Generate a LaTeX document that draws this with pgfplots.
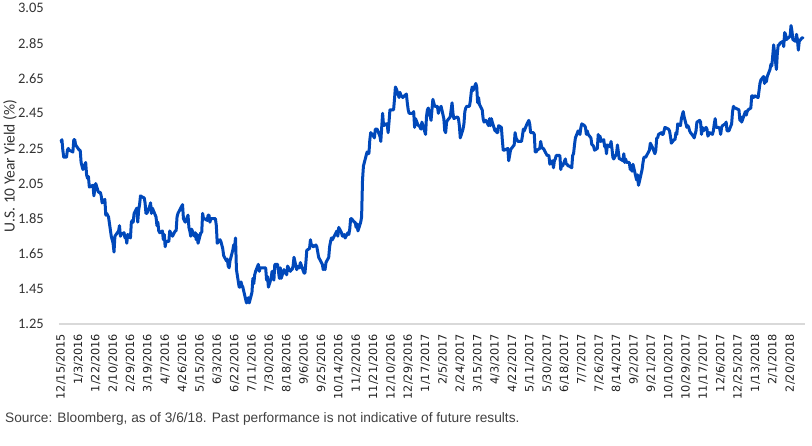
\documentclass[border=0pt]{standalone}
\usepackage{pgfplots}
\pgfplotsset{compat=1.18}
\usepackage{pgfplotstable}
\usepackage{fontspec}
\setmainfont{Carlito}
\newfontfamily\ticksfont{DejaVu Sans}
\newfontfamily\notefont{Liberation Sans}
\definecolor{yieldblue}{HTML}{0048BA}
\definecolor{axisgray}{HTML}{D9D9D9}
\definecolor{labelgray}{HTML}{333333}
\definecolor{notegray}{HTML}{404040}

% U.S. 10-year Treasury yield; day = calendar days since 12/15/2015
\pgfplotstableread{
day yield
0 2.29
1 2.30
2 2.24
3 2.20
6 2.20
7 2.24
8 2.25
9 2.24
13 2.23
14 2.30
15 2.30
16 2.27
20 2.24
21 2.24
22 2.17
23 2.15
24 2.13
27 2.17
28 2.10
29 2.08
30 2.09
31 2.03
35 2.04
36 1.98
37 2.02
38 2.05
41 2.00
42 2.00
43 2.00
44 1.98
45 1.94
48 1.96
49 1.87
50 1.88
51 1.87
52 1.86
55 1.75
56 1.73
57 1.71
58 1.66
59 1.75
63 1.78
64 1.81
65 1.75
66 1.76
69 1.77
70 1.74
71 1.75
72 1.71
73 1.76
76 1.74
77 1.83
78 1.84
79 1.83
80 1.88
83 1.91
84 1.83
85 1.90
86 1.93
87 1.98
90 1.97
91 1.97
92 1.94
93 1.88
94 1.88
97 1.92
98 1.94
99 1.88
100 1.91
104 1.86
105 1.81
106 1.83
107 1.78
108 1.77
111 1.78
112 1.73
113 1.76
114 1.69
115 1.72
118 1.72
119 1.78
120 1.77
121 1.76
122 1.75
125 1.78
126 1.78
127 1.86
128 1.88
129 1.89
132 1.92
133 1.93
134 1.85
135 1.84
136 1.83
139 1.87
140 1.80
141 1.78
142 1.75
143 1.79
146 1.75
147 1.77
148 1.73
149 1.76
150 1.71
153 1.77
154 1.77
155 1.88
156 1.85
157 1.85
160 1.84
161 1.87
162 1.87
163 1.83
164 1.85
168 1.85
169 1.85
170 1.81
171 1.71
174 1.73
175 1.72
176 1.70
177 1.68
178 1.64
181 1.61
182 1.62
183 1.58
184 1.57
185 1.61
188 1.67
189 1.70
190 1.69
191 1.74
192 1.56
195 1.46
196 1.46
197 1.49
198 1.47
199 1.46
203 1.37
204 1.38
205 1.40
206 1.37
209 1.43
210 1.51
211 1.48
212 1.53
213 1.55
216 1.59
217 1.55
218 1.57
219 1.57
220 1.57
223 1.57
224 1.57
225 1.50
226 1.52
227 1.46
230 1.51
231 1.55
232 1.55
233 1.50
234 1.59
237 1.59
238 1.55
239 1.51
240 1.57
241 1.51
244 1.56
245 1.54
246 1.55
247 1.53
248 1.58
251 1.55
252 1.56
253 1.56
254 1.58
255 1.63
258 1.56
259 1.57
260 1.58
261 1.57
262 1.60
266 1.54
267 1.54
268 1.60
269 1.67
272 1.68
273 1.73
274 1.70
275 1.70
276 1.69
279 1.70
280 1.69
281 1.66
282 1.63
283 1.62
286 1.59
287 1.56
288 1.57
289 1.56
290 1.60
293 1.63
294 1.69
295 1.72
296 1.74
297 1.73
301 1.77
302 1.78
303 1.75
304 1.80
307 1.77
308 1.75
309 1.75
310 1.76
311 1.74
314 1.77
315 1.76
316 1.79
317 1.85
318 1.85
321 1.83
322 1.83
323 1.80
324 1.82
325 1.78
328 1.83
329 1.86
330 2.07
331 2.15
335 2.23
336 2.22
337 2.22
338 2.30
339 2.34
342 2.32
343 2.31
344 2.36
346 2.36
349 2.32
350 2.29
351 2.37
352 2.45
353 2.38
356 2.39
357 2.39
358 2.34
359 2.40
360 2.47
363 2.47
364 2.47
365 2.53
366 2.60
367 2.59
370 2.54
371 2.57
372 2.55
373 2.55
374 2.54
378 2.56
379 2.51
380 2.47
381 2.45
385 2.45
386 2.46
387 2.37
388 2.42
391 2.38
392 2.38
393 2.37
394 2.36
395 2.40
399 2.33
400 2.43
401 2.47
402 2.48
405 2.41
406 2.47
407 2.53
408 2.51
409 2.49
412 2.49
413 2.45
414 2.48
415 2.48
416 2.49
419 2.42
420 2.35
421 2.34
422 2.40
423 2.41
426 2.43
427 2.47
428 2.51
429 2.45
430 2.42
434 2.43
435 2.42
436 2.38
437 2.31
440 2.36
441 2.39
442 2.46
443 2.48
444 2.49
447 2.49
448 2.52
449 2.57
450 2.60
451 2.58
454 2.62
455 2.60
456 2.51
457 2.54
458 2.50
461 2.47
462 2.42
463 2.40
464 2.41
465 2.41
468 2.38
469 2.42
470 2.38
471 2.42
472 2.40
475 2.35
476 2.36
477 2.34
478 2.34
479 2.38
482 2.37
483 2.30
484 2.24
485 2.24
489 2.25
490 2.18
491 2.21
492 2.24
493 2.25
496 2.27
497 2.34
498 2.31
499 2.30
500 2.29
503 2.29
504 2.29
505 2.32
506 2.36
507 2.35
510 2.39
511 2.40
512 2.41
513 2.39
514 2.34
517 2.34
518 2.33
519 2.23
520 2.23
521 2.24
524 2.25
525 2.29
526 2.26
527 2.25
528 2.25
532 2.21
533 2.21
534 2.21
535 2.16
538 2.18
539 2.14
540 2.18
541 2.19
542 2.21
545 2.21
546 2.21
547 2.13
548 2.16
549 2.15
552 2.19
553 2.16
554 2.16
555 2.15
556 2.15
559 2.14
560 2.21
561 2.22
562 2.27
563 2.31
566 2.35
568 2.33
569 2.37
570 2.39
573 2.38
574 2.37
575 2.33
576 2.35
577 2.33
580 2.31
581 2.27
582 2.27
583 2.26
584 2.24
587 2.25
588 2.33
589 2.29
590 2.32
591 2.29
594 2.30
595 2.26
596 2.27
597 2.22
598 2.27
601 2.26
602 2.29
603 2.25
604 2.20
605 2.19
608 2.22
609 2.27
610 2.23
611 2.19
612 2.19
615 2.18
616 2.22
617 2.17
618 2.19
619 2.17
622 2.17
623 2.13
624 2.15
625 2.12
626 2.16
630 2.07
631 2.10
632 2.04
633 2.06
636 2.13
637 2.17
638 2.20
639 2.20
640 2.20
643 2.23
644 2.24
645 2.28
646 2.27
647 2.26
650 2.22
651 2.24
652 2.31
653 2.31
654 2.33
657 2.34
658 2.33
659 2.33
660 2.35
661 2.37
665 2.36
666 2.35
667 2.32
668 2.28
671 2.30
672 2.30
673 2.34
674 2.33
675 2.39
678 2.38
679 2.42
680 2.44
681 2.46
682 2.43
685 2.37
686 2.38
687 2.37
688 2.35
689 2.34
692 2.32
693 2.31
694 2.33
695 2.35
696 2.40
699 2.41
700 2.40
701 2.33
702 2.37
703 2.35
706 2.37
707 2.36
708 2.32
710 2.34
713 2.33
714 2.35
715 2.39
716 2.42
717 2.37
720 2.37
721 2.36
722 2.33
723 2.37
724 2.38
727 2.39
728 2.40
729 2.35
730 2.35
731 2.35
734 2.39
735 2.46
736 2.49
737 2.48
738 2.48
742 2.47
743 2.41
744 2.43
745 2.40
749 2.46
750 2.44
751 2.46
752 2.47
755 2.48
756 2.55
757 2.55
758 2.54
759 2.55
763 2.54
764 2.58
765 2.62
766 2.64
769 2.66
770 2.62
771 2.65
772 2.63
773 2.66
776 2.70
777 2.73
778 2.72
779 2.78
780 2.84
783 2.70
784 2.79
785 2.84
786 2.84
787 2.85
790 2.86
791 2.83
792 2.91
793 2.90
794 2.87
798 2.89
799 2.95
800 2.92
801 2.87
804 2.86
805 2.90
806 2.87
807 2.81
808 2.86
811 2.88
812 2.88
}\yields

\begin{document}
\begin{tikzpicture}
\useasboundingbox (-59bp,-122bp) rectangle (753bp,324bp);
\begin{axis}[
  scale only axis,
  width=746bp, height=316bp,
  xmin=-2.2, xmax=814.3,
  ymin=1.25, ymax=3.05,
  axis x line*=bottom, axis y line*=left,
  x axis line style={draw=axisgray, line width=1.5bp},
  y axis line style={draw=none},
  major tick length=0pt,
  xtick={0,19,...,798},
  xticklabels={12/15/2015,1/3/2016,1/22/2016,2/10/2016,2/29/2016,3/19/2016,4/7/2016,4/26/2016,5/15/2016,6/3/2016,6/22/2016,7/11/2016,7/30/2016,8/18/2016,9/6/2016,9/25/2016,10/14/2016,11/2/2016,11/21/2016,12/10/2016,12/29/2016,1/17/2017,2/5/2017,2/24/2017,3/15/2017,4/3/2017,4/22/2017,5/11/2017,5/30/2017,6/18/2017,7/7/2017,7/26/2017,8/14/2017,9/2/2017,9/21/2017,10/10/2017,10/29/2017,11/17/2017,12/6/2017,12/25/2017,1/13/2018,2/1/2018,2/20/2018},
  xticklabel style={rotate=90, anchor=east, inner sep=0pt,
    font=\ticksfont\fontsize{11.3bp}{13bp}\selectfont, text=black!88},
  xticklabel shift=10bp,
  ytick={1.25,1.45,1.65,1.85,2.05,2.25,2.45,2.65,2.85,3.05},
  yticklabel style={anchor=east, inner sep=0pt,
    font=\fontsize{14.5bp}{16bp}\selectfont, text=labelgray,
    /pgf/number format/.cd, fixed, fixed zerofill, precision=2, assume math mode=true},
  yticklabel shift=15bp,
  ylabel={U.S. 10 Year Yield (\%)},
  ylabel style={at={(axis description cs:-0.0657,0.5)}, anchor=center,
    font=\fontsize{15.5bp}{17bp}\selectfont, text=labelgray},
]
\addplot[yieldblue, line width=3bp, line join=round, line cap=round]
  table[x=day, y=yield] {\yields};
\end{axis}
\node[anchor=base west, inner sep=0pt, text=notegray,
  font=\notefont\fontsize{13.7bp}{16bp}\selectfont] at (-54bp,-98bp)
  {Source: Bloomberg, as of 3/6/18. Past performance is not indicative of future results.};
\end{tikzpicture}
\end{document}
